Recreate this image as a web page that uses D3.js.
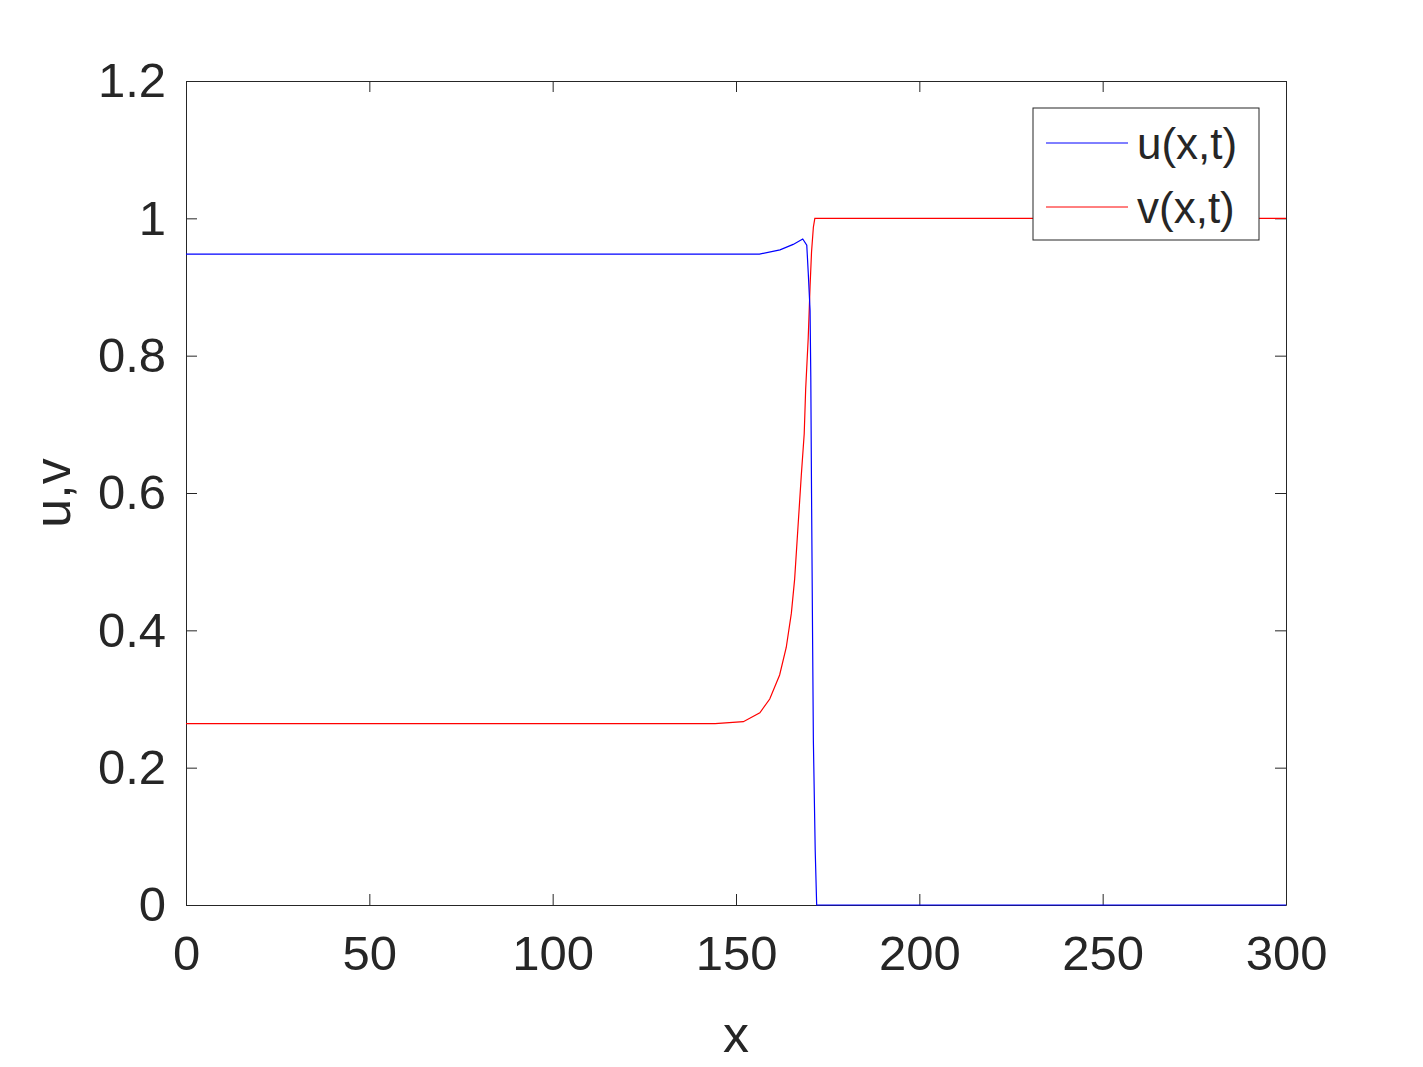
<!DOCTYPE html>
<html><head><meta charset="utf-8">
<script src="https://cdn.jsdelivr.net/npm/d3@7"></script>
<style>body{margin:0;background:#fff}</style></head>
<body><svg id="c" width="1423" height="1067"></svg>
<script>
const uX=[0,150,156.4,162,165.6,168.2,169.3,169.7,170.2,170.4,170.6,170.9,171.1,171.6,172.0,300];
const uY=[0.948,0.948,0.948,0.954,0.962,0.970,0.961,0.921,0.866,0.768,0.600,0.380,0.240,0.08,0,0];
const vX=[0,144.3,152,156.5,159.2,161.9,163.7,165.1,166,166.9,167.8,168.6,169,169.7,170.2,170.6,171.1,171.5,300];
const vY=[0.264,0.264,0.267,0.280,0.300,0.335,0.375,0.425,0.475,0.550,0.625,0.686,0.751,0.826,0.901,0.951,0.987,1,1];
const xTicks=[0,50,100,150,200,250,300];
const yTicks=[0,0.2,0.4,0.6,0.8,1,1.2];
const svg=d3.select("#c");
const L=186,R=1286,T=81,B=905;
const x=d3.scaleLinear().domain([0,300]).range([L,R]);
const y=d3.scaleLinear().domain([0,1.2]).range([B,T]);
const font="Liberation Sans, Arial, sans-serif";
const col="#262626";
const fmt=d=>String(d);
svg.append("g").attr("transform",`translate(0,${B})`).call(d3.axisBottom(x).tickValues(xTicks).tickFormat(fmt).tickSizeInner(-11).tickSizeOuter(0).tickPadding(30));
svg.append("g").attr("transform",`translate(0,${T})`).call(d3.axisTop(x).tickValues(xTicks).tickFormat("").tickSizeInner(-11).tickSizeOuter(0));
svg.append("g").attr("transform",`translate(${L},0)`).call(d3.axisLeft(y).tickValues(yTicks).tickFormat(fmt).tickSizeInner(-11).tickSizeOuter(0).tickPadding(20));
svg.append("g").attr("transform",`translate(${R},0)`).call(d3.axisRight(y).tickValues(yTicks).tickFormat("").tickSizeInner(-11).tickSizeOuter(0));
svg.selectAll(".domain,.tick line").attr("stroke",col).attr("stroke-width",1);
svg.selectAll(".tick text").attr("font-family",font).attr("font-size",49).attr("fill",col);
const line=d3.line().x(d=>x(d[0])).y(d=>y(d[1]));
svg.append("path").datum(vX.map((d,i)=>[d,vY[i]])).attr("d",line).attr("fill","none").attr("stroke","#ff0000").attr("stroke-width",1.2);
svg.append("path").datum(uX.map((d,i)=>[d,uY[i]])).attr("d",line).attr("fill","none").attr("stroke","#0000ff").attr("stroke-width",1.2);
svg.append("text").attr("x",(L+R)/2).attr("y",1052).attr("text-anchor","middle").attr("font-family",font).attr("font-size",52).attr("fill",col).text("x");
svg.append("text").attr("transform",`translate(70,${(T+B)/2}) rotate(-90)`).attr("text-anchor","middle").attr("font-family",font).attr("font-size",52).attr("fill",col).text("u,v");
const lg=svg.append("g");
lg.append("rect").attr("x",1033).attr("y",108).attr("width",226).attr("height",132).attr("fill","#fff").attr("stroke",col).attr("stroke-width",1);
[["u(x,t)","#0000ff",143],["v(x,t)","#ff0000",207]].forEach(([t,c,yy])=>{
 lg.append("line").attr("x1",1046).attr("x2",1128).attr("y1",yy).attr("y2",yy).attr("stroke",c).attr("stroke-width",1);
 lg.append("text").attr("x",1137).attr("y",yy+16).attr("font-family",font).attr("font-size",44).attr("fill",col).text(t);
});
</script></body></html>
